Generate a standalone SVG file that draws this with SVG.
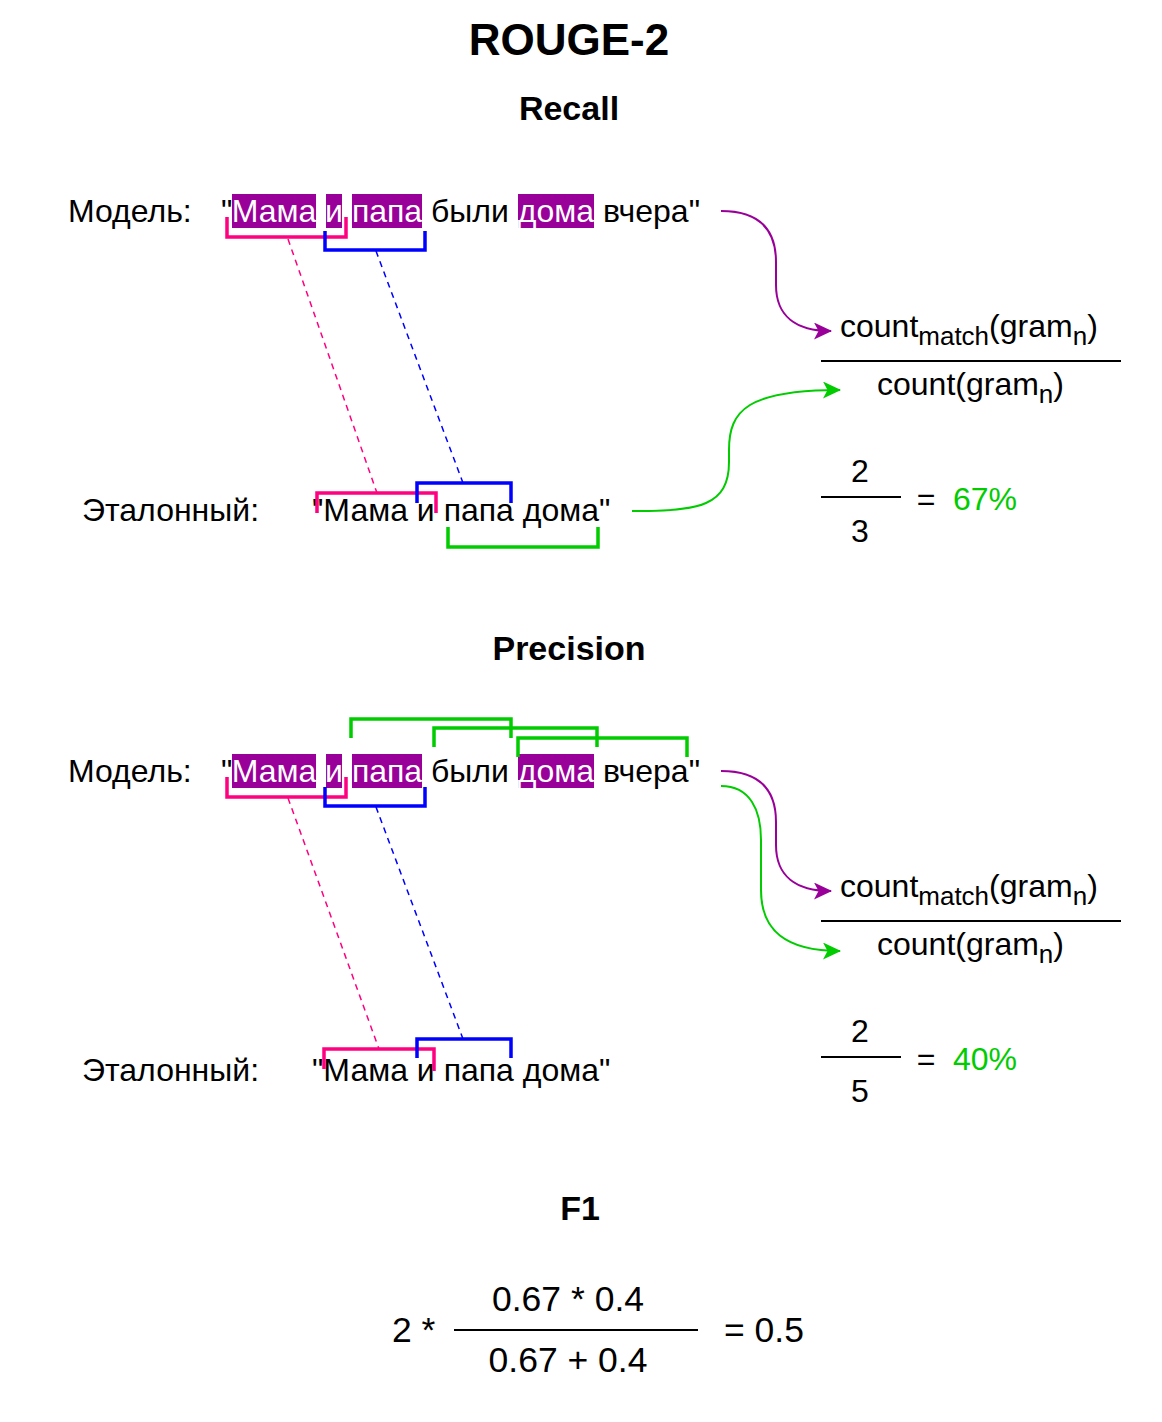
<svg xmlns="http://www.w3.org/2000/svg" width="1162" height="1422" viewBox="0 0 1162 1422">
<style>
text{font-family:"Liberation Sans",Arial,sans-serif;font-size:32px;fill:#000}
.title{font-weight:bold;font-size:44px}
.head{font-weight:bold;font-size:34px}
.f1{font-size:35.5px}
.w{fill:#fff}
.hl{fill:#990099}
.mid{text-anchor:middle}
.g{fill:#00CC00}
.sub{font-size:26px}
.br{fill:none;stroke-width:3.5}
.pink{stroke:#FF0080}
.blue{stroke:#0000FF}
.green{stroke:#00CC00}
.dash{fill:none;stroke-width:1.5;stroke-dasharray:6 5}
.arc{fill:none;stroke-width:2}
.bar{stroke:#000;stroke-width:2}
</style>
<defs>
<marker id="ahP" markerUnits="userSpaceOnUse" markerWidth="18" markerHeight="17" refX="17" refY="8.5" orient="auto" viewBox="0 0 18 17"><path d="M0,0 L18,8.5 L0,17 L4.5,8.5 Z" fill="#990099"/></marker>
<marker id="ahG" markerUnits="userSpaceOnUse" markerWidth="18" markerHeight="17" refX="17" refY="8.5" orient="auto" viewBox="0 0 18 17"><path d="M0,0 L18,8.5 L0,17 L4.5,8.5 Z" fill="#00CC00"/></marker>
</defs>
<rect width="1162" height="1422" fill="#fff"/>

<g id="titles">
<text class="title mid" x="569" y="55">ROUGE-2</text>
<text class="head mid" x="569" y="120">Recall</text>
<text class="head mid" x="569" y="660">Precision</text>
<text class="head mid" x="580" y="1220">F1</text>
</g>

<g id="recall-model">
<text x="68" y="222">Модель:</text>
<rect class="hl" x="232" y="194" width="84" height="34"/>
<rect class="hl" x="326" y="194" width="16" height="34"/>
<rect class="hl" x="352" y="194" width="70" height="34"/>
<rect class="hl" x="518" y="194" width="76" height="34"/>
<text x="221" y="222">"</text>
<text class="w mid" x="274" y="222">Мама</text>
<text class="w mid" x="334" y="222">и</text>
<text class="w mid" x="387" y="222">папа</text>
<text x="431" y="222">были</text>
<text class="w mid" x="556" y="222">дома</text>
<text x="603" y="222">вчера"</text>
</g>

<g id="recall-ref">
<text x="82" y="521">Эталонный:</text>
<text x="312" y="521">"Мама и папа дома"</text>
</g>

<g id="recall-brackets">
<path class="br pink" d="M227,217 V237 H346 V217"/>
<path class="br blue" d="M325,231 V250 H425 V231"/>
<path class="br pink" d="M317,513 V493 H436 V513"/>
<path class="br blue" d="M417,503 V483 H511 V503"/>
<path class="br green" d="M448,527 V547 H598 V527"/>
</g>

<g id="recall-formula">
<text x="840" y="337">count<tspan class="sub" dy="8">match</tspan><tspan dy="-8">(gram</tspan><tspan class="sub" dy="8">n</tspan><tspan dy="-8">)</tspan></text>
<line class="bar" x1="821" y1="361" x2="1121" y2="361"/>
<text x="877" y="395">count(gram<tspan class="sub" dy="8">n</tspan><tspan dy="-8">)</tspan></text>
</g>

<g id="recall-value">
<text class="mid" x="860" y="482">2</text>
<line class="bar" x1="821" y1="497" x2="901" y2="497"/>
<text class="mid" x="860" y="542">3</text>
<text class="mid" x="926" y="510">=</text>
<text class="g" x="953" y="510">67%</text>
</g>

<g id="precision-model">
<text x="68" y="782">Модель:</text>
<rect class="hl" x="232" y="754" width="84" height="34"/>
<rect class="hl" x="326" y="754" width="16" height="34"/>
<rect class="hl" x="352" y="754" width="70" height="34"/>
<rect class="hl" x="518" y="754" width="76" height="34"/>
<text x="221" y="782">"</text>
<text class="w mid" x="274" y="782">Мама</text>
<text class="w mid" x="334" y="782">и</text>
<text class="w mid" x="387" y="782">папа</text>
<text x="431" y="782">были</text>
<text class="w mid" x="556" y="782">дома</text>
<text x="603" y="782">вчера"</text>
</g>

<g id="precision-ref">
<text x="82" y="1081">Эталонный:</text>
<text x="312" y="1081">"Мама и папа дома"</text>
</g>

<g id="precision-brackets">
<path class="br green" d="M351,738 V719 H511 V738"/>
<path class="br green" d="M434,747 V728 H597 V747"/>
<path class="br green" d="M518,757 V738 H687 V757"/>
<path class="br pink" d="M227,777 V797 H346 V777"/>
<path class="br blue" d="M325,787 V806 H425 V787"/>
<path class="br pink" d="M324,1069 V1049 H434 V1071"/>
<path class="br blue" d="M417,1058 V1039 H511 V1058"/>
</g>

<g id="precision-formula">
<text x="840" y="897">count<tspan class="sub" dy="8">match</tspan><tspan dy="-8">(gram</tspan><tspan class="sub" dy="8">n</tspan><tspan dy="-8">)</tspan></text>
<line class="bar" x1="821" y1="921" x2="1121" y2="921"/>
<text x="877" y="955">count(gram<tspan class="sub" dy="8">n</tspan><tspan dy="-8">)</tspan></text>
</g>

<g id="precision-value">
<text class="mid" x="860" y="1042">2</text>
<line class="bar" x1="821" y1="1057" x2="901" y2="1057"/>
<text class="mid" x="860" y="1102">5</text>
<text class="mid" x="926" y="1070">=</text>
<text class="g" x="953" y="1070">40%</text>
</g>

<g id="f1-formula">
<text class="f1" x="392" y="1342">2 *</text>
<text class="f1 mid" x="568" y="1311">0.67 * 0.4</text>
<line class="bar" x1="454" y1="1330" x2="698" y2="1330"/>
<text class="f1 mid" x="568" y="1372">0.67 + 0.4</text>
<text class="f1" x="724" y="1342">= 0.5</text>
</g>

<g id="connectors">
<line class="dash pink" x1="288" y1="239" x2="377" y2="493"/>
<line class="dash blue" x1="376" y1="251" x2="463" y2="483"/>
<line class="dash pink" x1="288" y1="798" x2="379" y2="1049"/>
<line class="dash blue" x1="376" y1="807" x2="463" y2="1039"/>
<path class="arc" stroke="#990099" marker-end="url(#ahP)" d="M721,211 C762,211 776,232 776,262 L776,285 C776,316 796,331 831,331"/>
<path class="arc" stroke="#00CC00" marker-end="url(#ahG)" d="M632,511 C700,512 729,505 729,462 L729,450 C729,410 748,390 840,390"/>
<path class="arc" stroke="#990099" marker-end="url(#ahP)" d="M721,771 C762,771 776,792 776,822 L776,845 C776,876 796,891 831,891"/>
<path class="arc" stroke="#00CC00" marker-end="url(#ahG)" d="M721,786 C750,786 761,810 761,840 L761,890 C761,930 785,951 840,951"/>
</g>
</svg>
